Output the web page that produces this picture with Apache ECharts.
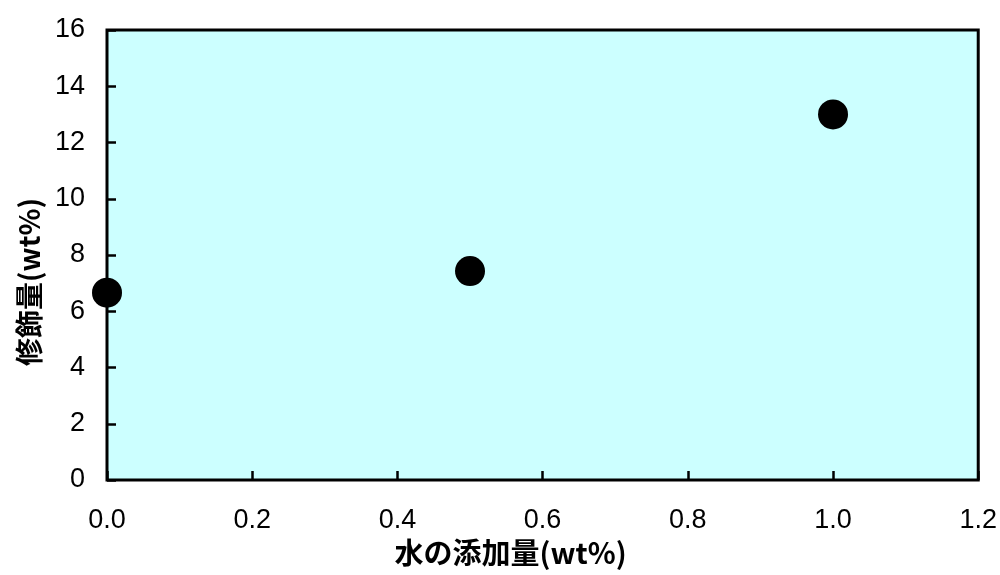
<!DOCTYPE html>
<html>
<head>
<meta charset="utf-8">
<script src="https://cdn.jsdelivr.net/npm/echarts@6/dist/echarts.min.js"></script>
<style>
html,body{margin:0;padding:0;background:#fff;}
#chart{width:1000px;height:575px;}
</style>
</head>
<body>
<div id="chart"></div>
<script>
const waterAdded = [0.0, 0.5, 1.0];
const modification = [6.66, 7.43, 13.0];
const xAxisTitle = '水の添加量(wt%)';
const yAxisTitle = '修飾量(wt%)';

const chart = echarts.init(document.getElementById('chart'));
const numFont = '"Liberation Sans", Arial, sans-serif';
const cjkFont = '"Noto Sans CJK JP", "Liberation Sans", sans-serif';
chart.setOption({
  animation: false,
  grid: {
    left: 107, right: 19, top: 30, bottom: 95,
    show: true, backgroundColor: '#ccffff',
    borderColor: '#000', borderWidth: 3
  },
  xAxis: {
    type: 'value', min: 0, max: 1.2, interval: 0.2,
    axisLine: { show: false },
    axisTick: { show: true, inside: true, length: 9, lineStyle: { color: '#000', width: 2.5 } },
    splitLine: { show: false },
    axisLabel: {
      margin: 27, color: '#000', fontSize: 27, fontFamily: numFont,
      formatter: v => v.toFixed(1)
    },
    name: xAxisTitle, nameLocation: 'middle', nameGap: 58,
    nameTextStyle: { color: '#000', fontSize: 29, fontFamily: cjkFont, fontWeight: 'bold', padding: [0, 64, 0, 0] }
  },
  yAxis: {
    type: 'value', min: 0, max: 16, interval: 2,
    axisLine: { show: false },
    axisTick: { show: true, inside: true, length: 9, lineStyle: { color: '#000', width: 2.5 } },
    splitLine: { show: false },
    axisLabel: { margin: 22, color: '#000', fontSize: 27, fontFamily: numFont },
    name: yAxisTitle, nameLocation: 'middle', nameGap: 64, nameRotate: 90,
    nameTextStyle: { color: '#000', fontSize: 28, fontFamily: cjkFont, fontWeight: 'bold', padding: [0, 54, 0, 0] }
  },
  series: [{
    type: 'scatter',
    data: waterAdded.map((x, i) => [x, modification[i]]),
    symbol: 'circle', symbolSize: 30,
    itemStyle: { color: '#000', opacity: 1 },
    clip: false
  }]
});
</script>
</body>
</html>
